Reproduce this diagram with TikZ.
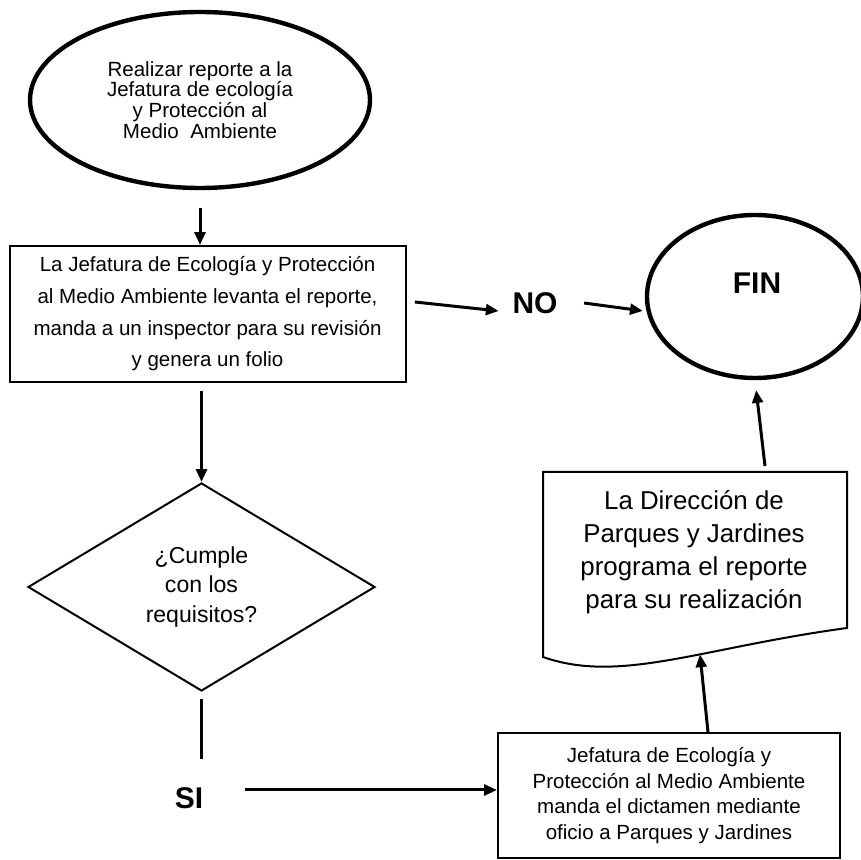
\documentclass[tikz,border=0pt]{standalone}
\usepackage{fontspec}
\setmainfont{Liberation Sans}
\usepackage{tikz}
\usetikzlibrary{arrows.meta, shapes.geometric}

\tikzset{
	flecha/.style={line width=0.075cm, -{Triangle[length=0.32cm, width=0.27cm]}},
	linea/.style={line width=0.075cm},
	caja/.style={draw, rectangle, line width=0.05cm, inner sep=0, align=center},
	ovalo/.style={draw, ellipse, line width=0.11cm, inner sep=0, align=center},
	rombo/.style={draw, diamond, line width=0.05cm, inner sep=0, align=center},
	etiqueta/.style={inner sep=0, font=\fontsize{21.3}{24}\selectfont\bfseries}
}

\begin{document}
\begin{tikzpicture}
	\useasboundingbox (0,0) rectangle (21.525,21.5);
	% Inicio
	\node[
		ovalo,
		minimum width=8.5cm,
		minimum height=4.4cm,
		font=\fontsize{14.6}{14.8}\selectfont
	] (inicio) at (5,19) {Realizar reporte a la\\Jefatura de ecología\\y Protección al\\Medio\ \ Ambiente};
	% Jefatura (reporte)
	\node[
		caja,
		minimum width=9.9cm,
		minimum height=3.4cm,
		font=\fontsize{14.6}{22.5}\selectfont
	] (jefatura) at (5.1875,13.65) {La Jefatura de Ecología y Protección\\al Medio Ambiente levanta el reporte,\\manda a un inspector para su revisión\\y genera un folio};
	% Requisitos
	\node[
		rombo,
		minimum width=8.675cm,
		minimum height=5.2cm,
		font=\fontsize{16.4}{21.3}\selectfont
	] (cumple) at (5.0375,6.825) {¿Cumple\\con los\\requisitos?};
	% SI / NO
	\node[etiqueta] (si) at (4.725,1.55) {SI};
	\node[etiqueta] (no) at (13.375,13.925) {NO};
	% Fin
	\node[
		ovalo,
		minimum width=5.4cm,
		minimum height=4.075cm
	] (fin) at (18.875,14.0875) {};
	\node[etiqueta] (fintexto) at (18.925,14.425) {FIN};
	% Jefatura (dictamen)
	\node[
		caja,
		minimum width=8.55cm,
		minimum height=3.125cm,
		font=\fontsize{14.6}{18.1}\selectfont
	] (dictamen) at (16.725,1.6125) {Jefatura de Ecología y\\Protección al Medio Ambiente\\manda el dictamen mediante\\oficio a Parques y Jardines};
	% Documento Parques y Jardines
	\draw[
		line width=0.05cm
	] (13.575,5.075) -- (13.575,9.7) -- (21.175,9.7) -- (21.175,5.8)
		.. controls (17.5,5.3) and (15.5,4.4) .. (13.575,5.075) -- cycle;
	\node[
		inner sep=0,
		align=center,
		font=\fontsize{18.4}{23.5}\selectfont
	] (parques) at (17.35,7.7) {La Dirección de\\Parques y Jardines\\programa el reporte\\para su realización};
	\coordinate (docbase) at (17.5,5.14);
	\coordinate (doctope) at (19.125,9.85);
	% Flechas
	\draw[flecha, shorten <=0.45cm] (inicio.south) -- (inicio.south |- jefatura.north);
	\draw[flecha, shorten <=0.2cm] (cumple.north |- jefatura.south) -- (cumple.north);
	\draw[linea, shorten <=0.175cm, shorten >=0.7cm] (cumple.south) -- (cumple.south |- si.north);
	\draw[flecha, shorten <=1.05cm] ([yshift=0.2cm]si.east) -- ([yshift=0.2cm]si.east -| dictamen.west);
	\draw[flecha] ([shift={(0.21,0.3)}]jefatura.east) -- ([shift={(-0.34,-0.2)}]no.west);
	\draw[flecha] ([xshift=0.66cm]no.east) -- ([shift={(-0.05,-0.36)}]fin.west);
	\draw[flecha] ([xshift=0.975cm]dictamen.north) -- (docbase);
	\draw[flecha, shorten >=0.25cm] (doctope) -- (fin.south);
\end{tikzpicture}
\end{document}
